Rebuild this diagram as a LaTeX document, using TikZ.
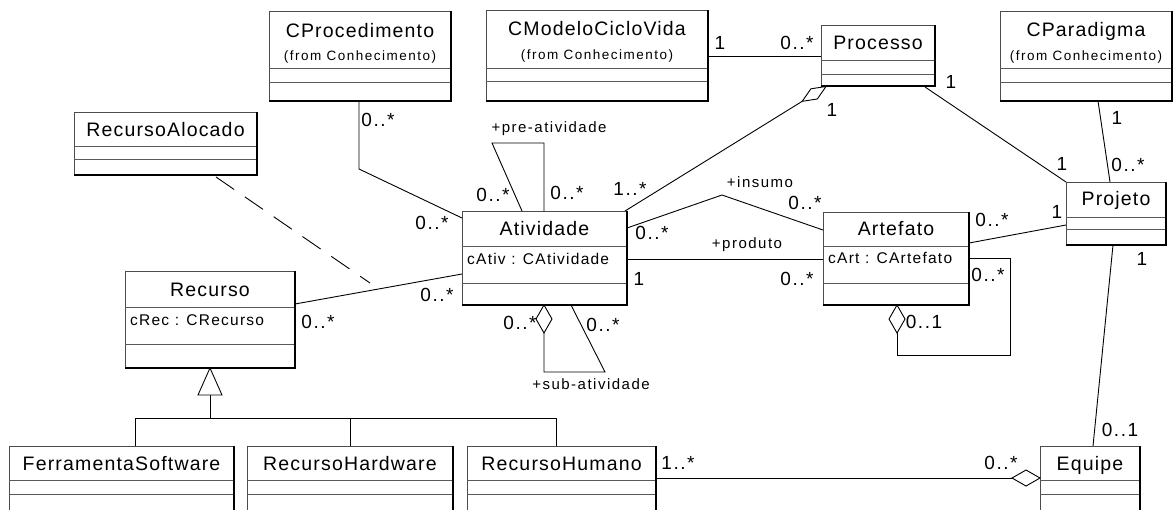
\documentclass[tikz,border=0pt]{standalone}
\usepackage{fontspec}
\setmainfont{Liberation Sans}
\newfontfamily\lsCls[LetterSpace=6]{Liberation Sans}
\newfontfamily\lsFrom[LetterSpace=11]{Liberation Sans}
\newfontfamily\lsAttr[LetterSpace=8]{Liberation Sans}
\newfontfamily\lsRole[LetterSpace=10]{Liberation Sans}
\newfontfamily\lsMult[LetterSpace=8]{Liberation Sans}
\newcommand\fCls{\lsCls\fontsize{19.5}{21}\selectfont}
\newcommand\fFrom{\lsFrom\fontsize{13.5}{15}\selectfont}
\newcommand\fAttr{\lsAttr\fontsize{15.5}{17}\selectfont}
\newcommand\fRole{\lsRole\fontsize{15}{17}\selectfont}
\newcommand\fMult{\lsMult\fontsize{19}{21}\selectfont}
\tikzset{
  conn/.style={line width=0.9pt, black},
  boxframe/.style={draw=black!70, line width=0.9pt, fill=white, inner sep=0pt, outer sep=0pt},
  shadeedge/.style={line width=1.6pt, black},
  sepline/.style={line width=1pt, black!65},
  clsname/.style={font=\fCls, inner sep=0pt, anchor=base},
  fromtxt/.style={font=\fFrom, inner sep=0pt, anchor=base},
  attr/.style={font=\fAttr, inner sep=0pt, anchor=base west},
  role/.style={font=\fRole, inner sep=0pt, anchor=base},
  mult/.style={font=\fMult, inner sep=0pt},
  agg/.style={line width=0.9pt, draw=black, fill=white},
  dashconn/.style={line width=0.9pt, black, dash pattern=on 22pt off 13pt},
}
\newcommand\umlcls[7]{%
  \node[boxframe, anchor=north west, minimum width={(#4-#2)*1pt}, minimum height={(#5-#3)*1pt}] (#1) at (#2,#3) {};
  \draw[sepline] (#2,#6) -- (#4,#6) (#2,#7) -- (#4,#7);
  \draw[shadeedge] (#2,#5) -- (#4,#5) -- (#4,#3);
}
\begin{document}
\begin{tikzpicture}[x=1pt,y=-1pt]
\useasboundingbox (0,0) rectangle (1174,509);
\clip (0,0) rectangle (1174,509);
\fill[white] (0,0) rectangle (1174,509);

% ---------- classes ----------
\umlcls{cproc}{269}{11}{451}{101}{68}{82}
\node[clsname] (cprocn) at (360,37) {CProcedimento};
\node[fromtxt] (cprocf) at (360,60) {(from Conhecimento)};

\umlcls{cmod}{486}{10}{708}{101}{68}{81}
\node[clsname] (cmodn) at (597,35) {CModeloCicloVida};
\node[fromtxt] (cmodf) at (597,59) {(from Conhecimento)};

\umlcls{proc}{821}{25}{935}{86}{60}{74}
\node[clsname] (procn) at (878,49) {Processo};

\umlcls{cpar}{1000}{11}{1172}{101}{68}{82}
\node[clsname] (cparn) at (1086,36) {CParadigma};
\node[fromtxt] (cparf) at (1086,60) {(from Conhecimento)};

\umlcls{ralo}{74}{112}{257}{175}{146}{159}
\node[clsname] (ralon) at (165.5,136) {RecursoAlocado};

\umlcls{atv}{462}{211}{627}{305}{246}{283}
\node[clsname] (atvn) at (544.5,235) {Atividade};
\node[attr] (atva) at (467,264) {cAtiv : CAtividade};

\umlcls{art}{823}{212}{969}{305}{246}{283}
\node[clsname] (artn) at (896,235) {Artefato};
\node[attr] (arta) at (828,263) {cArt : CArtefato};

\umlcls{proj}{1066}{182}{1166}{245}{217}{229}
\node[clsname] (projn) at (1116,205) {Projeto};

\umlcls{rec}{125}{271}{295}{368}{307}{344}
\node[clsname] (recn) at (210,296) {Recurso};
\node[attr] (reca) at (130,325) {cRec : CRecurso};

\umlcls{fs}{9}{446}{234}{530}{480}{494}
\node[clsname] (fsn) at (121.5,470) {FerramentaSoftware};
\umlcls{rh}{247}{446}{453}{530}{480}{494}
\node[clsname] (rhn) at (350,470) {RecursoHardware};
\umlcls{rhu}{467}{446}{656}{530}{480}{494}
\node[clsname] (rhun) at (561.5,470) {RecursoHumano};
\umlcls{eq}{1040}{446}{1140}{530}{480}{494}
\node[clsname] (eqn) at (1090,470) {Equipe};

% ---------- coordinates ----------
\coordinate (a1) at (708,56);   \coordinate (a2) at (821,56);
\coordinate (b1) at (925,87);   \coordinate (b2) at (1066,182);
\coordinate (c1) at (1098,101); \coordinate (c2) at (1110,182);
\coordinate (dT) at (826,86.5); \coordinate (dS1) at (817.3,99.0);
\coordinate (dF) at (802.2,101.3); \coordinate (dS2) at (810.9,88.8);
\coordinate (d2) at (625,211);
\coordinate (e1) at (627,228);  \coordinate (e2) at (722,195); \coordinate (e3) at (823,230);
\coordinate (f1) at (627,259);  \coordinate (f2) at (823,259);
\coordinate (g1) at (969,243);  \coordinate (g2) at (1066,225);
\coordinate (h0) at (897,305);  \coordinate (h1) at (897,333);
\coordinate (h2) at (897,355);  \coordinate (h3) at (1010,355);
\coordinate (h4) at (1010,258); \coordinate (h5) at (969,258);
\coordinate (i0) at (544,305);  \coordinate (i1) at (544,333);
\coordinate (i2) at (544,372);  \coordinate (i3) at (605,372);
\coordinate (i4) at (571,305);
\coordinate (j1) at (522,211);  \coordinate (j2) at (492,143);
\coordinate (j3) at (544,143);  \coordinate (j4) at (544,211);
\coordinate (k1) at (359,101);  \coordinate (k2) at (359,169); \coordinate (k3) at (462,218);
\coordinate (l1) at (295,304);  \coordinate (l2) at (462,274);
\coordinate (m1) at (216,177);  \coordinate (m2) at (370,283);
\coordinate (n0) at (210,368);  \coordinate (nL) at (198,395); \coordinate (nR) at (222,395);
\coordinate (n1) at (210,395);  \coordinate (n2) at (210,418);
\coordinate (nA) at (135,418);  \coordinate (nB) at (350,418); \coordinate (nC) at (556,418);
\coordinate (nA2) at (135,446); \coordinate (nB2) at (350,446); \coordinate (nC2) at (556,446);
\coordinate (o1) at (656,478);  \coordinate (o2) at (1012,478); \coordinate (o3) at (1040,478);
\coordinate (oU) at (1026,470); \coordinate (oD) at (1026,486);
\coordinate (p1) at (1113,245); \coordinate (p2) at (1093,446);

% ---------- connectors ----------
\draw[conn] (a1) -- (a2);
\draw[conn] (b1) -- (b2);
\draw[conn] (c1) -- (c2);
\draw[conn] (d2) -- (dF);
\draw[agg] (dT) -- (dS1) -- (dF) -- (dS2) -- cycle;
\draw[conn] (e1) -- (e2) -- (e3);
\draw[conn] (f1) -- (f2);
\draw[conn] (g1) -- (g2);
\draw[conn] (h1) -- (h2) -- (h3) -- (h4) -- (h5);
\draw[agg] (h0) -- (905,319) -- (h1) -- (889,319) -- cycle;
\draw[conn] (i1) -- (i2) -- (i3) -- (i4);
\draw[agg] (i0) -- (552,319) -- (i1) -- (536,319) -- cycle;
\draw[conn] (j1) -- (j2) -- (j3) -- (j4);
\draw[conn] (k1) -- (k2) -- (k3);
\draw[conn] (l1) -- (l2);
\draw[dashconn] (m1) -- (m2);
\draw[conn] (n1) -- (n2);
\draw[conn] (nA2) -- (nA) -- (nC) -- (nC2);
\draw[conn] (nB) -- (nB2);
\draw[agg] (n0) -- (nR) -- (nL) -- cycle;
\draw[conn] (o1) -- (o2);
\draw[agg] (o3) -- (oU) -- (o2) -- (oD) -- cycle;
\draw[conn] (p1) -- (p2);

% ---------- multiplicities ----------
\node[mult] (ma1) at (720,43) {1};
\node[mult] (ma2) at (797,43) {0..*};
\node[mult] (mb1) at (951,82) {1};
\node[mult] (mb2) at (1062,164) {1};
\node[mult] (mc1) at (1117,118) {1};
\node[mult] (mc2) at (1128,165) {0..*};
\node[mult] (md1) at (832,110) {1};
\node[mult] (md2) at (630,189) {1..*};
\node[mult] (me1) at (805,203) {0..*};
\node[mult] (me2) at (652,233) {0..*};
\node[mult] (mf1) at (639,279) {1};
\node[mult] (mf2) at (797,279) {0..*};
\node[mult] (mg1) at (992,220) {0..*};
\node[mult] (mg2) at (1057,212) {1};
\node[mult] (mh1) at (924,322) {0..1};
\node[mult] (mh2) at (988,275) {0..*};
\node[mult] (mi1) at (520,323) {0..*};
\node[mult] (mi2) at (603,325) {0..*};
\node[mult] (mj1) at (493,195) {0..*};
\node[mult] (mj2) at (567,193) {0..*};
\node[mult] (mk1) at (378,120) {0..*};
\node[mult] (mk2) at (432,223) {0..*};
\node[mult] (ml1) at (437,295) {0..*};
\node[mult] (ml2) at (318,322) {0..*};
\node[mult] (mo1) at (678,463) {1..*};
\node[mult] (mo2) at (1001,463) {0..*};
\node[mult] (mp1) at (1142,259) {1};
\node[mult] (mp2) at (1120,430) {0..1};

% ---------- roles ----------
\node[role] (rpre) at (549,132) {+pre-atividade};
\node[role] (rins) at (760,187) {+insumo};
\node[role] (rprod) at (747,248) {+produto};
\node[role] (rsub) at (591,389) {+sub-atividade};
\end{tikzpicture}
\end{document}
